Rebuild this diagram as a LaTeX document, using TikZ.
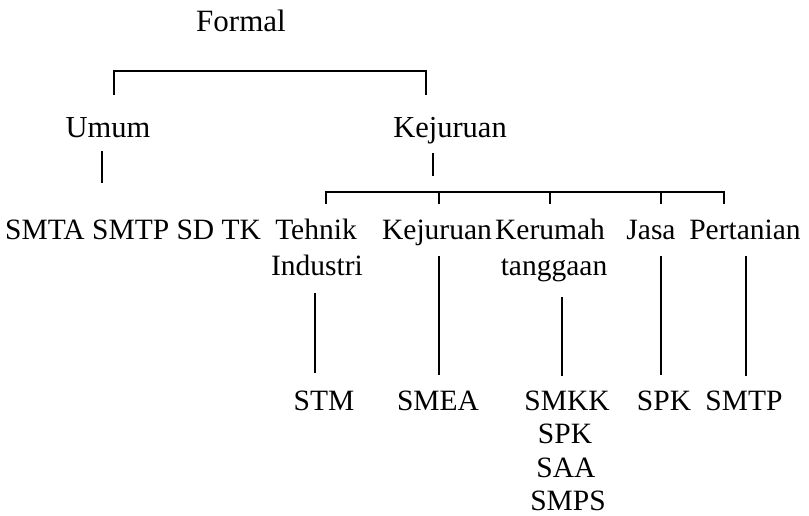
\documentclass[tikz,border=0pt]{standalone}
\usepackage{fontspec}
\setmainfont{Liberation Serif}
\begin{document}
\begin{tikzpicture}[x=1pt,y=-1pt,
  lbl/.style={inner sep=0pt,anchor=base,font=\fontsize{29.5}{33}\selectfont},
  conn/.style={line width=1.5pt}]
\useasboundingbox (0,0) rectangle (809,516);
% texts
\node[lbl,font=\fontsize{31}{33}\selectfont] (formal) at (241,32) {Formal};
\node[lbl,font=\fontsize{30.5}{33}\selectfont] (umum) at (108,138) {Umum};
\node[lbl,font=\fontsize{30.5}{33}\selectfont] (kej) at (450,138) {Kejuruan};
\node[lbl,anchor=base west] (umumlist) at (5,240) {SMTA SMTP SD TK};
\node[lbl] (tehnik) at (316,240) {Tehnik};
\node[lbl] (industri) at (317,275) {Industri};
\node[lbl] (kej2) at (437,240) {Kejuruan};
\node[lbl] (kerumah) at (550,240) {Kerumah};
\node[lbl] (tanggaan) at (554,275) {tanggaan};
\node[lbl] (jasa) at (651,240) {Jasa};
\node[lbl] (pertanian) at (745,240) {Pertanian};
\node[lbl] (stm) at (324,410) {STM};
\node[lbl] (smea) at (438,410) {SMEA};
\node[lbl] (smkk) at (567,410) {SMKK};
\node[lbl] (spka) at (565,443.5) {SPK};
\node[lbl] (saa) at (566,477) {SAA};
\node[lbl] (smps) at (568,510) {SMPS};
\node[lbl] (spk) at (664,410) {SPK};
\node[lbl] (smtp) at (744,410) {SMTP};
% connector ends
\coordinate (t1l) at (114,95);
\coordinate (b1l) at (114,71);
\coordinate (b1r) at (426,71);
\coordinate (t1r) at (426,95);
\coordinate (u1) at (102,151);
\coordinate (u2) at (102,183);
\coordinate (k1) at (433,153);
\coordinate (k2) at (433,176);
\coordinate (b2l) at (326,192);
\coordinate (b2r) at (724,192);
\coordinate (t2a) at (326,204);
\coordinate (t2b) at (439,204);
\coordinate (t2c) at (550,204);
\coordinate (t2d) at (661,204);
\coordinate (t2e) at (724,204);
\coordinate (d2b) at (439,192);
\coordinate (d2c) at (550,192);
\coordinate (d2d) at (661,192);
\coordinate (sa1) at (315,293);
\coordinate (sa2) at (315,373);
\coordinate (sb1) at (439,256);
\coordinate (sb2) at (439,375);
\coordinate (sc1) at (562,297);
\coordinate (sc2) at (562,376);
\coordinate (sd1) at (661,256);
\coordinate (sd2) at (661,375);
\coordinate (se1) at (746,256);
\coordinate (se2) at (746,376);
% connectors
\draw[conn] (t1l) -- (b1l) -- (b1r) -- (t1r);
\draw[conn] (u1) -- (u2);
\draw[conn] (k1) -- (k2);
\draw[conn] (t2a) -- (b2l) -- (b2r) -- (t2e);
\draw[conn] (d2b) -- (t2b);
\draw[conn] (d2c) -- (t2c);
\draw[conn] (d2d) -- (t2d);
\draw[conn] (sa1) -- (sa2);
\draw[conn] (sb1) -- (sb2);
\draw[conn] (sc1) -- (sc2);
\draw[conn] (sd1) -- (sd2);
\draw[conn] (se1) -- (se2);
\end{tikzpicture}
\end{document}
